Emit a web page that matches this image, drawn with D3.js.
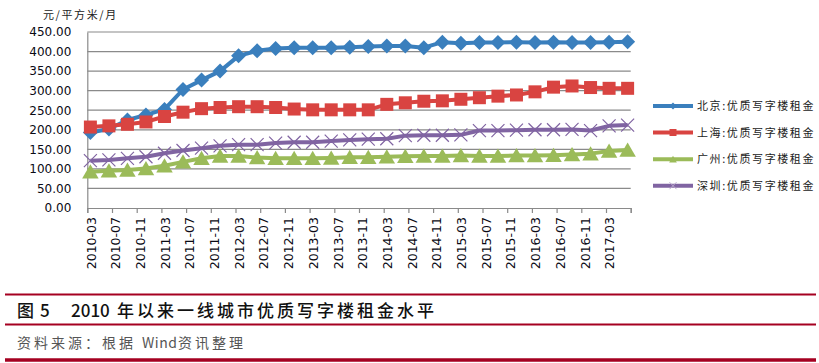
<!DOCTYPE html>
<html>
<head>
<meta charset="utf-8">
<script src="https://cdn.jsdelivr.net/npm/d3@7"></script>
<style>
  body { margin: 0; background: #fff; }
  svg { display: block; }
</style>
</head>
<body>
<div id="canvas"></div>
<script>
// quarterly points, 2010-03 .. 2017-06
const dates = ["2010-03", "2010-06", "2010-09", "2010-12", "2011-03", "2011-06", "2011-09", "2011-12",
    "2012-03", "2012-06", "2012-09", "2012-12", "2013-03", "2013-06", "2013-09", "2013-12",
    "2014-03", "2014-06", "2014-09", "2014-12", "2015-03", "2015-06", "2015-09", "2015-12",
    "2016-03", "2016-06", "2016-09", "2016-12", "2017-03", "2017-06"];

const beijing = [193, 202, 225, 238, 252, 303, 327, 350, 389, 402, 408, 410, 410, 410, 411,
    413, 414, 414, 410, 424, 421, 423, 423, 424, 423, 424, 423, 423, 424, 425];
const shanghai = [207, 210, 214, 220, 234, 245, 254, 257, 259, 259, 257, 253, 251, 251, 251,
    251, 265, 269, 273, 274, 278, 282, 286, 289, 297, 309, 312, 308, 306, 306];
const guangzhou = [93, 95, 97, 101, 108, 118, 127, 133, 133, 129, 127, 127, 127, 128, 130,
    130, 131, 132, 133, 133, 134, 133, 133, 134, 134, 135, 137, 139, 146, 148];
const shenzhen = [121, 123, 127, 131, 140, 147, 153, 159, 162, 162, 166, 168, 168, 171, 174,
    176, 177, 185, 186, 186, 187, 198, 198, 199, 200, 200, 201, 198, 210, 212];

const seriesNames = ["北京:优质写字楼租金", "上海:优质写字楼租金", "广州:优质写字楼租金", "深圳:优质写字楼租金"];

const xTickLabels = ["2010-03", "2010-07", "2010-11", "2011-03", "2011-07", "2011-11",
    "2012-03", "2012-07", "2012-11", "2013-03", "2013-07", "2013-11",
    "2014-03", "2014-07", "2014-11", "2015-03", "2015-07", "2015-11",
    "2016-03", "2016-07", "2016-11", "2017-03"];

const yTicks = [0, 50, 100, 150, 200, 250, 300, 350, 400, 450];

const width = 819;
const height = 363;
const colors = ["#3a7fbd", "#d94441", "#9bbb59", "#8064a2"];
const shapes = ["diamond", "square", "triangle", "cross"];
const allSeries = [beijing, shanghai, guangzhou, shenzhen];

// months since 2010-03
const monthIndex = s => {
    const [yy, mm] = s.split("-").map(Number);
    return (yy - 2010) * 12 + (mm - 3);
};

const svg = d3.select("#canvas").append("svg")
    .attr("width", width)
    .attr("height", height);

const x = d3.scaleLinear().domain([0, 88]).range([87.3, 630.7]);
const y = d3.scaleLinear().domain([0, 450]).range([208, 32]);

// grid
svg.append("g")
    .selectAll("line")
    .data(yTicks.filter(d => d > 0))
    .enter().append("line")
    .attr("x1", x(0)).attr("x2", x(88))
    .attr("y1", d => y(d)).attr("y2", d => y(d))
    .attr("stroke", "#8a8a8a")
    .attr("stroke-width", 1.2);

// y axis
const yAxis = svg.append("g")
    .attr("transform", `translate(${x(0)},0)`)
    .call(d3.axisLeft(y).tickValues(yTicks).tickFormat(d3.format(".2f")).tickSize(0).tickPadding(16));
yAxis.select(".domain").attr("stroke", "#8a8a8a").attr("stroke-width", 1.2);
yAxis.selectAll("text")
    .style("font-family", "DejaVu Sans")
    .style("font-size", "12px")
    .attr("fill", "#0a0a14");

// x axis
const xAxis = svg.append("g")
    .attr("transform", `translate(0,${y(0)})`)
    .call(d3.axisBottom(x).tickValues(d3.range(0, 89, 4)).tickSize(5).tickFormat(""));
xAxis.select(".domain").attr("stroke", "#8a8a8a").attr("stroke-width", 1.2);
xAxis.selectAll(".tick line").attr("stroke", "#8a8a8a").attr("stroke-width", 1.2);

svg.append("g")
    .selectAll("text")
    .data(xTickLabels)
    .enter().append("text")
    .attr("transform", d => `translate(${x(monthIndex(d) + 0.6) + 4.5},217) rotate(-90)`)
    .attr("text-anchor", "end")
    .style("font-family", "DejaVu Sans")
    .style("font-size", "12.5px")
    .attr("fill", "#0a0a14")
    .text(d => d);

// unit label
svg.append("text")
    .attr("x", 43).attr("y", 19)
    .style("font-family", "Noto Sans CJK SC")
    .style("font-size", "11px")
    .style("letter-spacing", "1.6px")
    .attr("fill", "#222")
    .text("元/平方米/月");

const markerPath = (shape, s) => {
    if (shape === "diamond") return `M0,${-s}L${s},0L0,${s}L${-s},0Z`;
    if (shape === "square") return `M${-s},${-s}H${s}V${s}H${-s}Z`;
    if (shape === "triangle") return `M0,${-s}L${s * 1.1},${s * 0.9}H${-s * 1.1}Z`;
    return `M${-s},${-s}L${s},${s}M${s},${-s}L${-s},${s}`;
};

const line = d3.line()
    .x((d, i) => x(monthIndex(dates[i]) + 0.5))
    .y(d => y(d));

allSeries.forEach((vals, k) => {
    const g = svg.append("g");
    g.append("path")
        .datum(vals)
        .attr("d", line)
        .attr("fill", "none")
        .attr("stroke", colors[k])
        .attr("stroke-width", 4)
        .attr("stroke-linejoin", "round");

    const size = [7.5, 6.5, 7.5, 6.5][k];
    g.selectAll("path.m")
        .data(vals)
        .enter().append("path")
        .attr("class", "m")
        .attr("transform", (d, i) => `translate(${x(monthIndex(dates[i]) + 0.5)},${y(d)})`)
        .attr("d", markerPath(shapes[k], size))
        .attr("fill", shapes[k] === "cross" ? "none" : colors[k])
        .attr("stroke", colors[k])
        .attr("stroke-width", shapes[k] === "cross" ? 1.2 : 0);
});

// legend
const legend = svg.append("g");
seriesNames.forEach((name, k) => {
    const ly = [106, 132.5, 159.3, 185.7][k];
    legend.append("line")
        .attr("x1", 653).attr("x2", 693)
        .attr("y1", ly).attr("y2", ly)
        .attr("stroke", colors[k])
        .attr("stroke-width", 4);
    legend.append("path")
        .attr("transform", `translate(673,${ly})`)
        .attr("d", markerPath(shapes[k], 3.5))
        .attr("fill", shapes[k] === "cross" ? "none" : colors[k])
        .attr("stroke", shapes[k] === "cross" ? "#b9a8cc" : colors[k])
        .attr("stroke-width", shapes[k] === "cross" ? 1 : 0);
    legend.append("text")
        .attr("x", 697).attr("y", ly + 4)
        .style("font-family", "Noto Sans CJK SC")
        .style("font-size", "11px")
        .style("letter-spacing", "1.6px")
        .attr("fill", "#222")
        .text(name);
});

// caption block
const rule = "#a50021";
[[294.5, 2.2], [324.5, 2.2], [360, 3.5]].forEach(([ry, w]) => {
    svg.append("line")
        .attr("x1", 5).attr("x2", 816)
        .attr("y1", ry).attr("y2", ry)
        .attr("stroke", rule)
        .attr("stroke-width", w);
});

const caption = [["图", 17, 0], ["5", 40, 0], ["2010", 71, 0], ["年以来一线城市优质写字楼租金水平", 117, 3]];
caption.forEach(([t, cx, ls]) => {
    svg.append("text")
        .attr("x", cx).attr("y", 316.5)
        .style("font-family", "Noto Sans CJK SC")
        .style("font-size", "17px")
        .style("font-weight", "500")
        .style("letter-spacing", ls + "px")
        .attr("fill", "#111")
        .text(t);
});

const source = [["资料来源：", 17, 3], ["根据", 102, 3], ["Wind", 142, 0.5], ["资讯整理", 178, 3]];
source.forEach(([t, cx, ls]) => {
    svg.append("text")
        .attr("x", cx).attr("y", 348)
        .style("font-family", "Noto Sans CJK SC")
        .style("font-size", "14px")
        .style("letter-spacing", ls + "px")
        .attr("fill", "#555")
        .text(t);
});
</script>
</body>
</html>
